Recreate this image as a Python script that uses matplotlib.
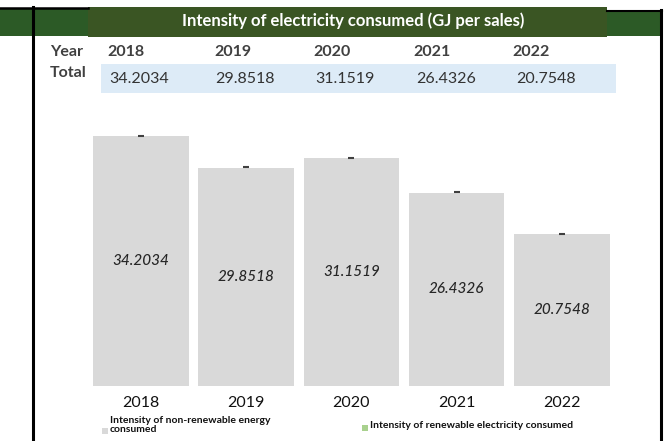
import numpy as np
import matplotlib
matplotlib.use("Agg")
import matplotlib.pyplot as plt
from matplotlib.patches import Rectangle
from matplotlib.lines import Line2D

# data
years = ["2018", "2019", "2020", "2021", "2022"]
total = [34.2034, 29.8518, 31.1519, 26.4326, 20.7548]
renewable = [0, 0, 0, 0, 0]
value_labels = ["34.2034", "29.8518", "31.1519", "26.4326", "20.7548"]

title = "Intensity of electricity consumed (GJ per sales)"
legend_labels = ["Intensity of non-renewable energy\nconsumed",
                 "Intensity of renewable electricity consumed"]

W, H = 667, 441
plt.rcParams['font.family'] = ['Lato', 'DejaVu Sans']
fig = plt.figure(figsize=(W / 100, H / 100), dpi=100)


def fx(px):
    return px / W


def fy(py):
    return 1 - py / H


def rect(x0, y0, x1, y1, color):
    fig.add_artist(Rectangle((fx(x0), fy(y1)), fx(x1) - fx(x0), fy(y0) - fy(y1),
                             transform=fig.transFigure, color=color, lw=0, zorder=1))


def line(x0, y0, x1, y1, lw=2):
    fig.add_artist(Line2D([fx(x0), fx(x1)], [fy(y0), fy(y1)],
                          transform=fig.transFigure, color="black", lw=lw, zorder=3))


# header band
rect(0, 8, 88, 36, "#2c5a26")
rect(607, 11, 660, 36, "#2c5a26")
rect(88, 7, 607, 37, "#3a5523")
line(0, 7.5, 88, 7.5, 1.8)
line(607, 10.5, 662, 10.5, 1.5)
line(32.5, 7, 32.5, 441, 2.2)
line(661, 10, 661, 441, 2.2)
fig.text(fx(353), fy(21), title, color="white", fontsize=12, fontweight="bold",
         ha="center", va="center", zorder=4)

# small table
rect(101, 64, 616, 93, "#ddebf7")
fig.text(fx(50), fy(52), "Year", fontsize=11.5, fontweight="bold", color="#404040",
         ha="left", va="center")
fig.text(fx(50), fy(73), "Total", fontsize=11.5, fontweight="bold", color="#404040",
         ha="left", va="center")
year_x = [107, 214, 313, 413, 512]
val_x = [139, 245, 345, 446, 546]
for yr, xp in zip(years, year_x):
    fig.text(fx(xp), fy(52), yr, fontsize=11.5, fontweight="bold", color="#404040",
             ha="left", va="center", zorder=4)
for lab, xp in zip(value_labels, val_x):
    fig.text(fx(xp), fy(79), lab, fontsize=11.5, color="#333333",
             ha="center", va="center", zorder=4)

# bar chart
L, R, T, B = 80, 625, 100, 386
ax = fig.add_axes([fx(L), fy(B), fx(R) - fx(L), fy(T) - fy(B)])
x = np.arange(len(years))
ax.bar(x, total, width=0.91, color="#d9d9d9", zorder=2)
ax.bar(x, renewable, bottom=total, width=0.91, color="#a9d18e", zorder=2)
ax.plot(x, np.array(total) + 0.05, ls="none", marker="_", ms=5, mew=1.5,
        color="#404040", zorder=3)
for xi, v, lab in zip(x, total, value_labels):
    ax.text(xi, v / 2, lab, ha="center", va="center", fontsize=11,
            style="italic", fontweight="medium", color="#262626")
ax.set_xlim((L - 141) / 105.2, (R - 141) / 105.2)
ax.set_ylim(0, (B - T) / 7.31)
ax.set_xticks(x)
ax.set_xticklabels(years, fontsize=11.5, color="#111111")
ax.tick_params(axis="x", length=0, pad=7)
ax.set_yticks([])
for s in ax.spines.values():
    s.set_visible(False)

# legend
rect(102, 428, 108, 434, "#d9d9d9")
fig.text(fx(110), fy(425), legend_labels[0], fontsize=7.5, fontweight="bold",
         color="#111111", ha="left", va="center", linespacing=0.95)
rect(362, 425, 368, 431, "#a9d18e")
fig.text(fx(370), fy(425), legend_labels[1], fontsize=7.5, fontweight="bold",
         color="#111111", ha="left", va="center")

fig.savefig("out.png", dpi=100)
